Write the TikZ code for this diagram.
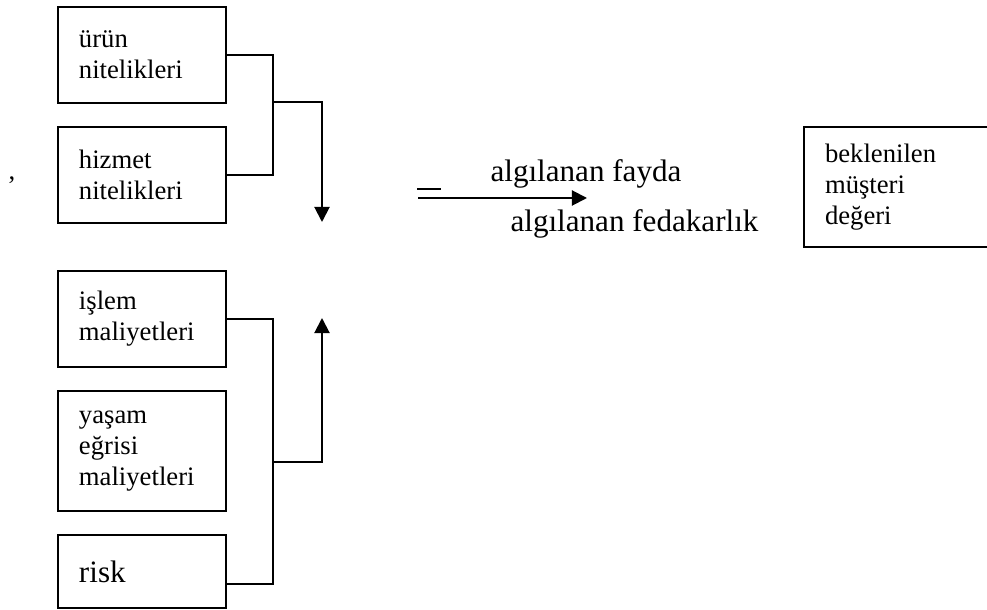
\documentclass[tikz,border=0pt]{standalone}
\usepackage{fontspec}
\setmainfont{Liberation Serif}
\usetikzlibrary{arrows.meta, positioning}

\begin{document}
\begin{tikzpicture}[x=0.45pt, y=-0.45pt, line width=0.9pt,
        kutu/.style={draw, rectangle, align=left, text width=56.7pt, inner xsep=9.45pt, minimum height=#1},
        ok/.style={-{Triangle[length=6.8pt, width=6.8pt]}},
        buyuk/.style={font=\fontsize{14pt}{16pt}\selectfont}
    ]
    \tikzstyle{every node}=[font=\fontsize{12pt}{14pt}\selectfont]
    \useasboundingbox (0,0) rectangle (987,610);
    \clip (0,0) rectangle (987,610);

    % faydalar
    \node[kutu=43.2pt, anchor=north west] (urun) at (57,6) {ürün\\nitelikleri};
    \node[kutu=43.2pt, below=9.9pt of urun] (hizmet) {hizmet\\nitelikleri};
    % fedakarliklar
    \node[kutu=43.2pt, below=20.7pt of hizmet] (islem) {işlem\\maliyetleri};
    \node[kutu=54pt, below=9.9pt of islem] (yasam) {yaşam\\eğrisi\\maliyetleri};
    \node[kutu=32.85pt, buyuk, below=9.9pt of yasam] (risk) {risk};

    \node[anchor=base] (virgul) at (12,180) {,};

    \coordinate (ust) at (273,102);
    \coordinate (ustuc) at (322,222);
    \draw (urun.east) -| (ust) |- (hizmet.east);
    \draw[ok] (ust) -| (ustuc);

    \coordinate (alt) at (273,462);
    \coordinate (altuc) at (322,318);
    \draw (islem.east) -| (alt) |- ([yshift=-5.4pt]risk.east);
    \draw[ok] (alt) -| (altuc);

    % oran
    \node[buyuk, anchor=base] (fayda) at (586,182) {algılanan fayda};
    \node[buyuk, anchor=base] (fedakarlik) at (634.5,232) {algılanan fedakarlık};
    \coordinate (okbas) at (418,198);
    \coordinate (oksonu) at (587,198);
    \draw (417,189) -- (441,189);
    \draw[ok] (okbas) -- (oksonu);

    \node[kutu=54pt, text width=68pt, anchor=north west] (deger) at (803,126) {beklenilen\\müşteri\\değeri};
\end{tikzpicture}
\end{document}
